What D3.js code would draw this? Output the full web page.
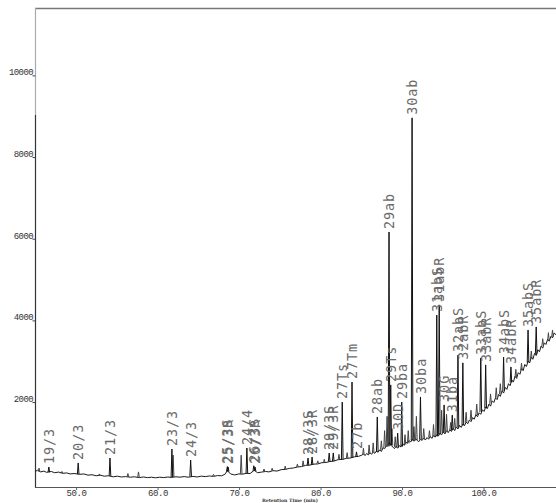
<!DOCTYPE html>
<html><head><meta charset="utf-8">
<script src="https://cdn.jsdelivr.net/npm/d3@7"></script>
<style>body{margin:0;background:#fff}svg{display:block}</style>
</head><body><svg id="c" width="556" height="503"></svg>
<script>
// baseline trace [time (min), abundance]
const baseline = [
[44.9,300],[45.2,330],[45.6,290],[46.0,310],[46.3,280],[46.9,300],[47.3,270],[47.8,285],[48.3,255],[48.8,265],
[49.2,240],[49.7,250],[50.4,230],[50.9,240],[51.4,210],[51.9,220],[52.4,195],[52.9,210],[53.4,185],[53.9,195],
[54.5,170],[55.0,185],[55.5,165],[56.0,175],[56.6,160],[57.1,170],[57.7,150],[58.2,165],[58.7,150],[59.2,160],
[59.7,145],[60.2,160],[60.7,150],[61.2,165],[61.6,155],[62.2,170],[62.7,160],[63.2,175],[63.7,160],[64.3,180],
[64.8,165],[65.3,185],[65.8,175],[66.3,190],[66.8,180],[67.3,200],[67.8,195],[68.2,230],[68.5,320],[68.9,240],
[69.4,215],[69.9,240],[70.4,235],[70.8,255],[71.3,250],[71.8,330],[72.2,270],[72.7,285],[73.2,300],[73.6,290],
[74.1,320],[74.6,310],[75.1,345],[75.6,350],[76.1,375],[76.6,385],[77.1,410],[77.6,420],[78.1,450],[78.6,455],
[79.1,480],[79.6,485],[80.1,515],[80.6,520],[81.1,545],[81.6,555],[82.1,590],[82.6,595],[83.1,620],[83.6,630],
[84.1,660],[84.6,670],
[85.0,700],[85.2,730],[85.4,690],[85.6,740],[85.8,705],[86.0,760],[86.2,720],[86.4,780],[86.6,745],[86.8,800],
[87.0,770],[87.2,830],[87.4,790],[87.6,880],[87.8,860],[88.0,920],[88.2,960],[88.4,1000],[88.6,940],[88.8,900],
[89.0,860],[89.2,910],[89.4,870],[89.6,930],[89.8,900],[90.0,980],[90.2,940],[90.4,1020],[90.6,990],[90.8,1060],
[91.0,1020],[91.2,1090],[91.4,1040],[91.6,1110],[91.8,1060],[92.0,1030],[92.2,1090],[92.4,1060],[92.6,1120],[92.8,1070],
[93.0,1130],[93.2,1090],[93.4,1160],[93.6,1110],[93.8,1180],[94.0,1140],[94.2,1200],[94.4,1170],[94.6,1240],[94.8,1200],
[95.0,1270],[95.2,1220],[95.4,1300],[95.6,1250],[95.8,1320],[96.0,1280],[96.2,1360],[96.4,1300],[96.6,1390],[96.8,1340],
[97.0,1430],[97.2,1380],[97.4,1460],[97.6,1420],[97.8,1510],[98.0,1470],[98.2,1560],[98.4,1520],[98.6,1620],[98.8,1580],
[99.0,1690],[99.2,1640],[99.4,1740],[99.6,1700],[99.8,1810],[100.0,1770],[100.2,1880],[100.4,1840],[100.6,1950],[100.8,1900],
[101.0,2030],[101.2,1990],[101.4,2100],[101.6,2060],[101.8,2190],[102.0,2140],[102.2,2270],[102.4,2220],[102.6,2360],[102.8,2310],
[103.0,2450],[103.2,2400],[103.4,2540],[103.6,2490],[103.8,2630],[104.0,2580],[104.2,2720],[104.4,2680],[104.6,2820],[104.8,2770],
[105.0,2920],[105.2,2870],[105.4,3000],[105.6,2960],[105.8,3100],[106.0,3050],[106.2,3190],[106.4,3140],[106.6,3280],[106.8,3230],
[107.0,3370],[107.2,3320],[107.4,3450],[107.6,3410],[107.8,3540],[108.0,3490],[108.2,3610],[108.4,3570],[108.6,3690],[108.83,3650]
];
// labelled peaks: [time, base, top, label]
const peaks = [
[46.6,280,410,"19/3"],[50.2,235,510,"20/3"],[54.1,190,630,"21/3"],[61.7,160,850,"23/3"],[64.0,175,580,"24/3"],
[68.5,300,420,"25/3S"],[68.6,300,410,"25/3R"],[70.9,250,875,"24/4"],[71.75,320,440,"26/3S"],[71.9,310,410,"26/3R"],
[78.4,450,630,"28/3S"],[78.9,460,655,"28/3R"],[81.0,545,750,"29/3S"],[81.5,555,755,"29/3R"],
[82.6,595,2000,"27Ts"],[83.8,630,2490,"27Tm"],[84.35,660,780,"27b"],[86.9,780,1635,"28ab"],
[88.34,920,6165,"29ab"],[88.55,950,2420,"29Ts"],[89.4,890,1240,"30D"],[89.9,910,2000,"29ba"],
[91.17,1060,8960,"30ab"],[92.2,1080,2125,"30ba"],[94.2,1160,4130,"31abS"],[94.5,1200,4380,"31abR"],
[95.1,1250,1930,"30G"],[96.1,1320,1680,"31ba"],[96.8,1380,3150,"32abS"],[97.4,1430,2960,"32abR"],
[99.6,1760,3080,"33abS"],[100.2,1850,2910,"33abR"],[102.4,2270,3100,"34abS"],[103.3,2480,2860,"34abR"],
[105.4,2970,3765,"35abS"],[106.4,3180,3840,"35abR"]
];
// unlabelled peaks: [time, base, top]
const minorPeaks = [
[45.4,300,380],[48.2,260,300],[52.8,200,240],[56.3,170,250],[57.6,160,290],[61.85,160,700],[66.8,190,230],
[70.2,240,700],[73.0,300,360],[74.0,320,380],[75.6,350,430],[77.1,410,480],[77.8,430,560],[79.6,490,560],
[80.4,510,600],[82.2,590,720],[83.2,620,760],[85.2,700,870],[85.9,730,950],[86.4,760,1000],[87.4,830,1050],
[87.8,880,1300],[88.1,900,1650],[88.7,930,1350],[89.1,900,1150],[90.3,960,1200],[90.7,990,1300],[91.4,1050,1400],
[91.7,1060,1650],[92.6,1100,1350],[93.3,1130,1300],[93.8,1150,1450],[94.8,1230,1800],[95.4,1280,1700],[95.9,1300,1500],
[96.4,1350,1600],[97.8,1500,1750],[98.4,1560,1800],[99.1,1680,1950],[100.8,1960,2200],[101.5,2100,2350],[102.0,2200,2450],
[103.9,2600,2800],[104.6,2780,2950],[105.8,3050,3250],[107.2,3370,3550],[107.9,3500,3700],[108.4,3600,3760]
];
const xTicks = [50,60,70,80,90,100];
const yTicks = [2000,4000,6000,8000,10000];
const xTitle = "Retention Time (min)";

const svg = d3.select("#c");
const x = d3.scaleLinear().domain([44.9,108.83]).range([35,556]);
const y = d3.scaleLinear().domain([-80,11650]).range([487,8]);

// frame
svg.append("line").attr("x1",35).attr("x2",556).attr("y1",8.5).attr("y2",8.5).attr("stroke","#777").attr("stroke-width",1.4);
svg.append("line").attr("x1",35.5).attr("x2",35.5).attr("y1",8).attr("y2",115).attr("stroke","#aaa").attr("stroke-width",1.2);
svg.append("line").attr("x1",35.5).attr("x2",35.5).attr("y1",115).attr("y2",488).attr("stroke","#333").attr("stroke-width",1.2);
svg.append("line").attr("x1",35).attr("x2",556).attr("y1",487.5).attr("y2",487.5).attr("stroke","#555").attr("stroke-width",1);

// y ticks
const yg = svg.append("g");
yTicks.forEach(v=>{
  yg.append("line").attr("x1",32.5).attr("x2",35.5).attr("y1",y(v)+0.5).attr("y2",y(v)+0.5).attr("stroke","#444");
  yg.append("text").attr("x",33).attr("y",y(v)).attr("text-anchor","end")
    .attr("font-family","Liberation Mono, monospace").attr("font-size",9).attr("letter-spacing",-0.6)
    .attr("fill","#333").text(v);
});
// x ticks
const xg = svg.append("g");
xTicks.forEach(v=>{
  xg.append("line").attr("x1",x(v)).attr("x2",x(v)).attr("y1",487.5).attr("y2",490).attr("stroke","#666");
  xg.append("text").attr("x",x(v)).attr("y",496).attr("text-anchor","middle")
    .attr("font-family","Liberation Mono, monospace").attr("font-size",9).attr("letter-spacing",-0.4)
    .attr("fill","#333").text(v.toFixed(1));
});
svg.append("text").attr("x",262).attr("y",502).attr("font-family","DejaVu Serif, serif")
  .attr("font-size",4.6).attr("font-weight","bold").attr("fill","#333").text(xTitle);

// baseline trace
const line = d3.line().x(d=>x(d[0])).y(d=>y(d[1]));
svg.append("path").datum(baseline).attr("d",line).attr("fill","none").attr("stroke","#1a1a1a").attr("stroke-width",1);

// peaks
const spike = p => `M${x(p[0]-0.1)},${y(p[1])}L${x(p[0])},${y(p[2])}L${x(p[0]+0.1)},${y(p[1])}`;
svg.append("g").selectAll("path").data(minorPeaks).join("path").attr("d",spike)
  .attr("fill","none").attr("stroke","#444").attr("stroke-width",1);
svg.append("g").selectAll("path").data(peaks).join("path").attr("d",spike)
  .attr("fill","none").attr("stroke","#111").attr("stroke-width",1);

// labels
svg.append("g").selectAll("text").data(peaks).join("text")
  .attr("transform",p=>`translate(${x(p[0])},${y(p[2])-3}) rotate(-90)`)
  .attr("dy","0.38em")
  .attr("font-family","DejaVu Sans Mono, monospace").attr("font-size",13.5).attr("letter-spacing",0.9)
  .attr("fill","#6a6a6a").text(p=>p[3]);
</script></body></html>
